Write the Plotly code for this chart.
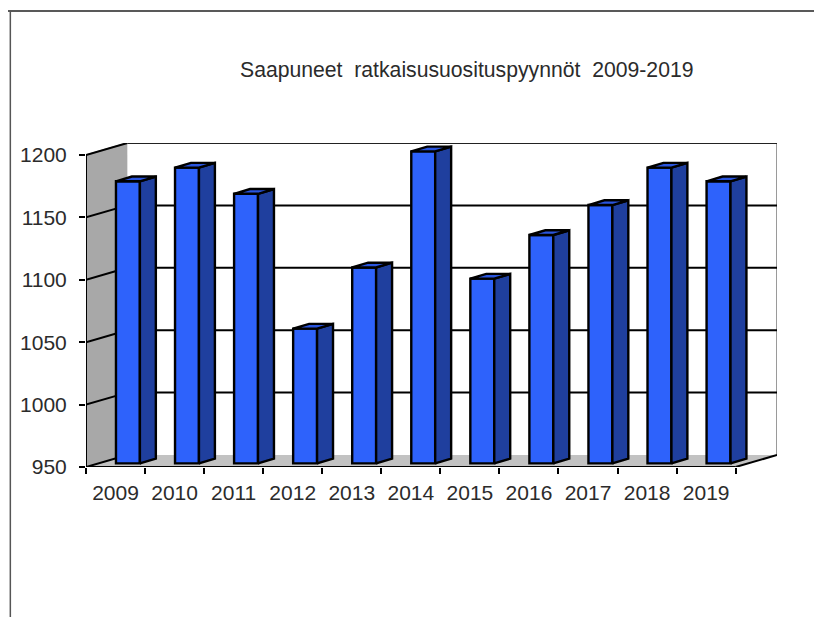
import plotly.graph_objects as go

years = ["2009", "2010", "2011", "2012", "2013", "2014", "2015", "2016", "2017", "2018", "2019"]
values = [1176, 1187, 1166, 1058, 1107, 1200, 1098, 1133, 1157, 1187, 1176]
y_ticks = [950, 1000, 1050, 1100, 1150, 1200]
title_text = "Saapuneet\u00a0\u00a0ratkaisusuosituspyynnöt\u00a0\u00a02009-2019"

# pseudo-3D projection, in axis units
Y0 = 950
DEPTH_X, DEPTH_Y = 0.70, 9.6
SHIFT_X, SHIFT_Y = 0.21, 2.9
BAR_W = 0.405
BAR_DX, BAR_DY = 0.27, 3.8
FRONT, SIDE, TOP = "#2e62fb", "#1f3f9e", "#2a55dd"
LW = 2.4
PLOT_W, PLOT_H = 694, 324

n = len(years)
x_right = n - 0.5
positions = list(range(n))
base = Y0 + SHIFT_Y

fig = go.Figure()
fig.add_trace(go.Bar(
    x=[p + SHIFT_X for p in positions],
    y=[v - Y0 for v in values],
    base=[base] * n,
    width=BAR_W,
    marker=dict(color=FRONT, line=dict(color="black", width=LW)),
    hoverinfo="skip",
))
for p, v in zip(positions, values):
    x1 = p + SHIFT_X + BAR_W / 2
    x0 = x1 - BAR_W
    top = v + SHIFT_Y
    fig.add_trace(go.Scatter(
        x=[x1, x1 + BAR_DX, x1 + BAR_DX, x1, x1],
        y=[base, base + BAR_DY, top + BAR_DY, top, base],
        mode="lines", fill="toself", fillcolor=SIDE,
        line=dict(color="black", width=LW), hoverinfo="skip",
    ))
    fig.add_trace(go.Scatter(
        x=[x0, x1, x1 + BAR_DX, x0 + BAR_DX, x0],
        y=[top, top, top + BAR_DY, top + BAR_DY, top],
        mode="lines", fill="toself", fillcolor=TOP,
        line=dict(color="black", width=LW), hoverinfo="skip",
    ))


def poly(pts):
    return "M" + " L".join(f"{a},{b}" for a, b in pts) + " Z"


x_l = -0.5
y_top = max(y_ticks)
shapes = [
    dict(type="path", layer="below", line=dict(width=0), fillcolor="#a8a8a8",
         path=poly([(x_l, Y0), (x_l + DEPTH_X, Y0 + DEPTH_Y),
                    (x_l + DEPTH_X, y_top + DEPTH_Y), (x_l, y_top)])),
    dict(type="path", layer="below", line=dict(width=0), fillcolor="#c2c2c2",
         path=poly([(x_l, Y0), (x_right, Y0), (x_right + DEPTH_X, Y0 + DEPTH_Y),
                    (x_l + DEPTH_X, Y0 + DEPTH_Y)])),
    # back wall right edge
    dict(type="line", layer="below", x0=x_right + DEPTH_X, x1=x_right + DEPTH_X,
         y0=Y0 + DEPTH_Y, y1=y_top + DEPTH_Y, line=dict(color="#9a9a9a", width=2)),
    # top edge
    dict(type="line", layer="below", x0=x_l + DEPTH_X, x1=x_right + DEPTH_X,
         y0=y_top + DEPTH_Y, y1=y_top + DEPTH_Y, line=dict(color="#222222", width=2)),
    # top of side wall
    dict(type="line", layer="below", x0=x_l, x1=x_l + DEPTH_X,
         y0=y_top, y1=y_top + DEPTH_Y, line=dict(color="#9a9a9a", width=1.5)),
    # front axis lines
    dict(type="line", layer="below", x0=x_l, x1=x_right, y0=Y0, y1=Y0,
         line=dict(color="black", width=2)),
    dict(type="line", layer="below", x0=x_right, x1=x_right + DEPTH_X, y0=Y0, y1=Y0 + DEPTH_Y,
         line=dict(color="black", width=2)),
    dict(type="line", layer="below", x0=x_l, x1=x_l, y0=Y0, y1=y_top,
         line=dict(color="black", width=2)),
    # outer frame
    dict(type="line", xref="paper", yref="paper", x0=-85 / PLOT_W, x1=737 / PLOT_W,
         y0=(467 - 11) / PLOT_H, y1=(467 - 11) / PLOT_H, line=dict(color="#222222", width=1.5)),
    dict(type="line", xref="paper", yref="paper", x0=-76 / PLOT_W, x1=-76 / PLOT_W,
         y0=(467 - 617) / PLOT_H, y1=(467 - 11) / PLOT_H, line=dict(color="#555555", width=1.5)),
]
for t in y_ticks:
    shapes.append(dict(type="line", layer="below", x0=x_l, x1=x_l + DEPTH_X, y0=t, y1=t + DEPTH_Y,
                       line=dict(color="black", width=2)))
    if Y0 < t < y_top:
        shapes.append(dict(type="line", layer="below", x0=x_l + DEPTH_X, x1=x_right + DEPTH_X,
                           y0=t + DEPTH_Y, y1=t + DEPTH_Y, line=dict(color="black", width=2)))

fig.update_layout(
    # the page's 8px body margin supplies the remainder of the 822x617 window
    width=814, height=609, autosize=False,
    margin=dict(l=75, r=45, t=135, b=150, pad=0),
    paper_bgcolor="white", plot_bgcolor="white",
    showlegend=False, barmode="overlay",
    font=dict(family="Liberation Sans, Arial, sans-serif", color="#2b2b2b"),
    shapes=shapes,
    annotations=[dict(text=title_text, xref="paper", yref="paper",
                      x=(468 - 85) / PLOT_W, y=(467 - 70) / PLOT_H,
                      xanchor="center", yanchor="middle", showarrow=False,
                      font=dict(size=21.2, color="#2b2b2b"))],
    xaxis=dict(
        range=[x_l, x_right + DEPTH_X], showgrid=False, zeroline=False, showline=False,
        tickmode="array", tickvals=positions, ticktext=years, ticks="",
        tickfont=dict(size=21), ticklabelstandoff=11,
        minor=dict(tickmode="array", tickvals=[p - 0.5 for p in positions] + [x_right],
                   ticks="outside", ticklen=6, tickwidth=2, tickcolor="black", showgrid=False),
    ),
    yaxis=dict(
        range=[Y0, y_top + DEPTH_Y], showgrid=False, zeroline=False, showline=False,
        tickmode="array", tickvals=y_ticks, ticks="outside", ticklen=6, tickwidth=2,
        tickcolor="black", tickfont=dict(size=21), ticklabelstandoff=8,
    ),
)

fig.write_html("out.html")
